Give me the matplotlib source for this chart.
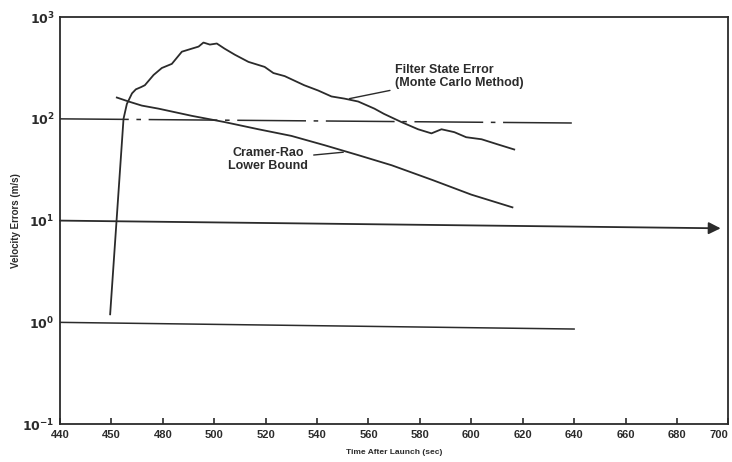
import matplotlib.pyplot as plt
from matplotlib.ticker import FixedLocator

plt.rcParams['font.family'] = ['Liberation Sans', 'DejaVu Sans']

# Filter state error (Monte Carlo)
mc_t = [459.5, 464.7, 466.0, 468.0, 469.5, 471.5, 473.0, 476.4, 479.6,
        483.5, 487.4, 491.3, 493.9, 495.8, 498.3, 501.0, 504.0, 508.0, 513.3, 519.6,
        523.0, 527.4, 535.0, 540.4, 545.6, 550.7, 556.0, 562.3, 566.0, 572.8, 579.3,
        584.5, 588.4, 593.4, 598.0, 604.0, 610.4, 616.7]
mc_v = [1.2, 100.0, 140.0, 178.0, 195.0, 205.0, 214.0, 270.0, 316.0,
        347.0, 457.0, 490.0, 513.0, 562.0, 537.0, 550.0, 490.0, 427.0, 363.0, 324.0,
        282.0, 263.0, 214.0, 190.0, 166.0, 158.0, 148.0, 126.0, 112.0, 93.0, 79.0,
        72.0, 79.0, 74.0, 66.0, 63.0, 56.0, 50.0]

# Cramer-Rao lower bound
cr_t = [462.1, 466.7, 471.8, 478.3, 491.3, 504.0, 517.2, 530.0, 543.0, 556.0, 569.0,
        585.0, 600.0, 616.0]
cr_v = [162.0, 148.0, 135.0, 126.0, 107.0, 93.0, 79.0, 68.0, 55.0, 44.0, 35.0,
        25.0, 18.0, 13.5]

# reference levels (start and end value, as drawn on the scan)
level_t = [440, 640]
level_100 = [100.0, 91.0]
level_1 = [1.0, 0.86]
arrow_t = [440, 697]
arrow_10 = [10.0, 8.4]

x_ticks = [440, 460, 480, 500, 520, 540, 560, 580, 600, 620, 640, 660, 680, 700]
x_labels = ['440', '450', '480', '500', '520', '540', '560', '580', '600', '620',
            '640', '660', '680', '700']
y_ticks = [0.1, 1, 10, 100, 1000]
y_labels = [r'$\mathbf{10^{-1}}$', r'$\mathbf{10^{0}}$', r'$\mathbf{10^{1}}$',
            r'$\mathbf{10^{2}}$', r'$\mathbf{10^{3}}$']

ink = '#2b2b2b'

fig = plt.figure(figsize=(7.32, 4.62), dpi=100)
ax = fig.add_axes([0.082, 0.082, 0.913, 0.881])

ax.plot(mc_t, mc_v, color=ink, lw=1.3)
ax.plot(cr_t, cr_v, color=ink, lw=1.3)
ax.plot(level_t, level_100, color=ink, lw=1.1, dashes=(45, 5, 3, 5))
ax.plot(level_t, level_1, color=ink, lw=1.1)
ax.annotate('', xy=(arrow_t[1], arrow_10[1]), xytext=(arrow_t[0], arrow_10[0]),
            arrowprops=dict(arrowstyle='-|>', color=ink, lw=1.3,
                            mutation_scale=18, shrinkA=0, shrinkB=0))

ax.annotate('Filter State Error\n(Monte Carlo Method)', xy=(552.6, 158),
            xytext=(570.5, 262), fontsize=9, fontweight='bold', color=ink,
            ha='left', va='center', linespacing=1.1,
            arrowprops=dict(arrowstyle='-', color=ink, lw=1.0,
                            shrinkA=2, shrinkB=0))
ax.annotate('Cramer-Rao\nLower Bound', xy=(550.2, 47), xytext=(521, 40),
            fontsize=9, fontweight='bold', color=ink, ha='center',
            va='center', linespacing=1.1,
            arrowprops=dict(arrowstyle='-', color=ink, lw=1.0,
                            shrinkA=2, shrinkB=0))

ax.set_yscale('log')
ax.set_xlim(440, 700)
ax.set_ylim(0.1, 1000)
ax.xaxis.set_major_locator(FixedLocator(x_ticks))
ax.set_xticklabels(x_labels, fontsize=8, fontweight='bold', color=ink)
ax.get_xticklabels()[-1].set_ha('right')
ax.yaxis.set_major_locator(FixedLocator(y_ticks))
ax.yaxis.set_minor_locator(FixedLocator([]))
ax.set_yticklabels(y_labels, fontsize=9, color=ink)
ax.tick_params(axis='x', direction='in', length=4, width=1.2, color=ink, pad=4)
ax.tick_params(axis='y', length=0, pad=4)

for s in ax.spines.values():
    s.set_color(ink)
    s.set_linewidth(1.3)

ax.set_xlabel('Time After Launch (sec)', fontsize=6, fontweight='bold',
              color=ink, labelpad=7)
ax.set_ylabel('Velocity Errors (m/s)', fontsize=7, fontweight='bold',
              color=ink, labelpad=1)

fig.savefig('out.png', dpi=100)
